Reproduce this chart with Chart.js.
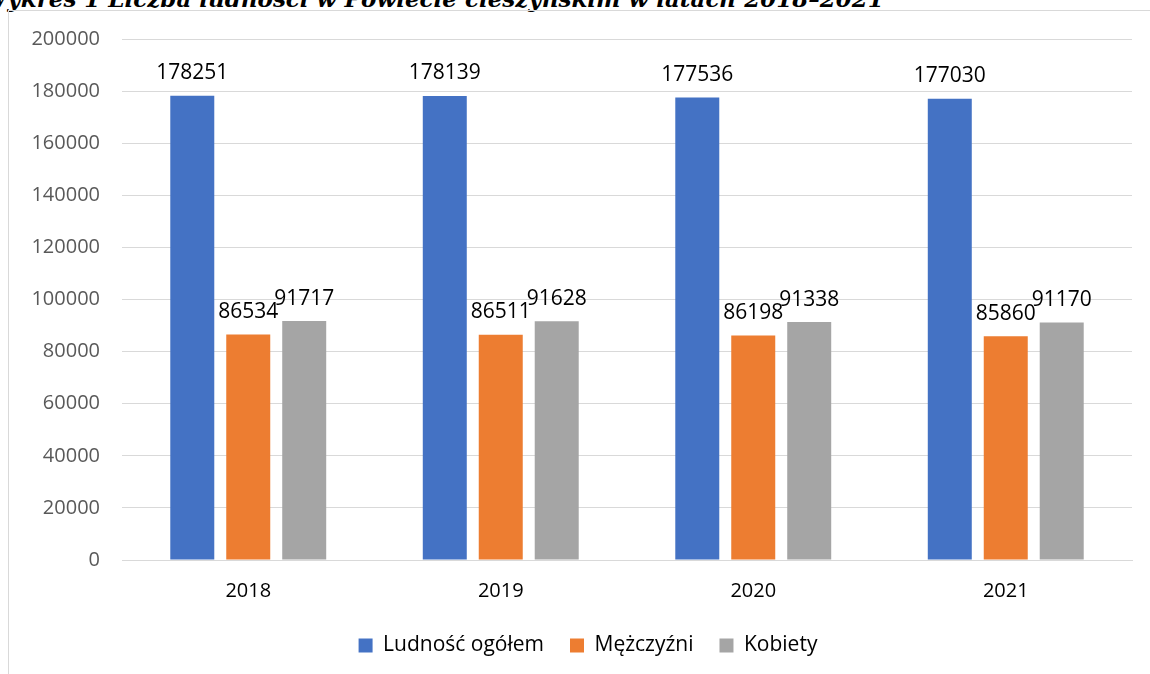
<!DOCTYPE html>
<html>
<head>
<meta charset="utf-8">
<script src="https://cdn.jsdelivr.net/npm/chart.js@4.4.0/dist/chart.umd.min.js"></script>
<style>
  body { margin: 0; background: #fff; overflow: hidden; }
  #wrap { position: relative; width: 1150px; height: 674px; overflow: hidden; }
  #title { position: absolute; left: -18px; top: -15px; white-space: nowrap;
    font: italic bold 23px "DejaVu Serif", serif; color: #000; }
  #frame { position: absolute; left: 8px; top: 10px; width: 1200px; height: 700px;
    border: 1px solid #d9d9d9; box-sizing: border-box; }
  #chart { position: absolute; left: 0; top: 0; }
</style>
</head>
<body>
<div id="wrap">
  <div id="title">Wykres 1 Liczba ludności w Powiecie cieszyńskim w latach 2018–2021</div>
  <div id="frame"></div>
  <canvas id="chart" width="1150" height="674"></canvas>
</div>
<script>
var years = ['2018', '2019', '2020', '2021'];
var ogolem = [178251, 178139, 177536, 177030];
var mezczyzni = [86534, 86511, 86198, 85860];
var kobiety = [91717, 91628, 91338, 91170];
var seriesNames = ['Ludność ogółem', 'Mężczyźni', 'Kobiety'];

Chart.defaults.font.family = '"Open Sans", sans-serif';
Chart.defaults.font.size = 20;

// etykiety nad słupkami
var valueLabels = {
	id: 'valueLabels',
	afterLayout: function(chart){
		// legenda w oryginale jest przesunięta w prawo
		chart.legend.left += 22;
		chart.legend.right += 22;
	},
	afterDatasetsDraw: function(chart){
		var ctx = chart.ctx;
		ctx.save();
		ctx.fillStyle = '#000';
		ctx.font = '21px "Open Sans", sans-serif';
		ctx.textAlign = 'center';
		ctx.textBaseline = 'bottom';
		chart.data.datasets.forEach(function(ds, i){
			var meta = chart.getDatasetMeta(i);
			meta.data.forEach(function(bar, j){
				ctx.fillText(ds.data[j], bar.x, bar.y - 12);
			});
		});
		ctx.restore();
	}
};

var chartdata = {
	labels: years,
	datasets: [
		{ label: seriesNames[0], backgroundColor: '#4472C4', data: ogolem },
		{ label: seriesNames[1], backgroundColor: '#ED7D31', data: mezczyzni },
		{ label: seriesNames[2], backgroundColor: '#A5A5A5', data: kobiety }
	]
};

var ctx = document.getElementById('chart').getContext('2d');
var barGraph = new Chart(ctx, {
	type: 'bar',
	data: chartdata,
	plugins: [valueLabels],
	options: {
		responsive: false,
		animation: false,
		layout: { padding: { top: 39, right: 18, bottom: 8, left: 0 } },
		datasets: { bar: { categoryPercentage: 0.665, barPercentage: 0.786 } },
		scales: {
			x: {
				grid: { display: false },
				border: { color: '#d9d9d9', width: 1 },
				ticks: { color: '#000', padding: 11, font: { size: 20 } },
				afterFit: function(s){ s.height = 49; }
			},
			y: {
				min: 0, max: 200000,
				ticks: { stepSize: 20000, color: '#595959', padding: 22, font: { size: 20 },
					callback: function(v){ return String(v); } },
				grid: { color: '#d9d9d9', drawTicks: false },
				border: { display: false },
				afterFit: function(s){ s.width = 122; }
			}
		},
		plugins: {
			tooltip: { enabled: false },
			legend: {
				position: 'bottom',
				labels: { color: '#000', boxWidth: 14, boxHeight: 14, padding: 26, font: { size: 21 } }
			}
		}
	}
});
</script>
</body>
</html>
